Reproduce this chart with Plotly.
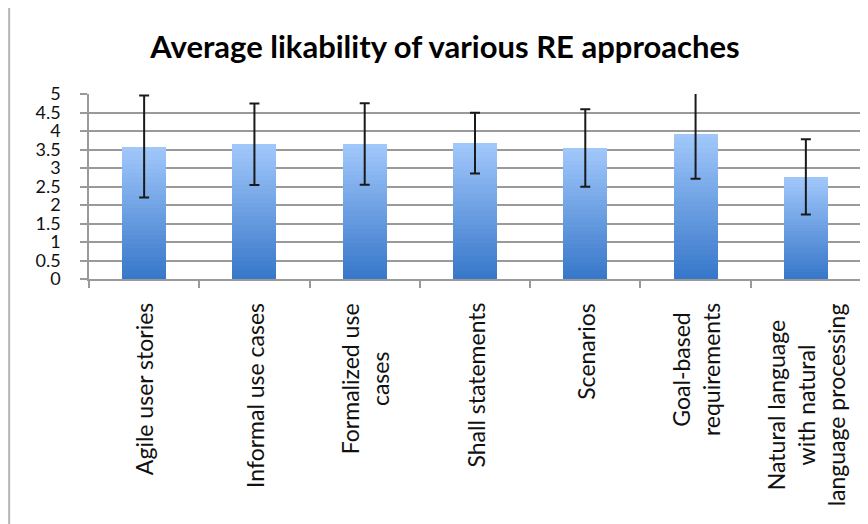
import plotly.graph_objects as go

categories = [
    "Agile user stories",
    "Informal use cases",
    "Formalized use cases",
    "Shall statements",
    "Scenarios",
    "Goal-based requirements",
    "Natural language with natural language processing",
]
tick_labels = [
    "Agile user stories",
    "Informal use cases",
    "Formalized use<br>cases",
    "Shall statements",
    "Scenarios",
    "Goal-based<br>requirements",
    "Natural language<br>with natural<br>language processing",
]
means = [3.58, 3.64, 3.65, 3.67, 3.54, 3.93, 2.76]
std_devs = [1.38, 1.10, 1.10, 0.82, 1.05, 1.22, 1.02]
y_ticks = [0, 0.5, 1, 1.5, 2, 2.5, 3, 3.5, 4, 4.5, 5]

FONT = "Lato"
N_SLICES = 30
top_rgb = (160, 199, 250)
bot_rgb = (56, 120, 202)

# the page body adds an 8px offset; compensate so the figure lands like the reference
OFF = 8

fig = go.Figure()
for i in range(N_SLICES):
    t = i / (N_SLICES - 1)
    c = tuple(round(b + (tp - b) * t) for b, tp in zip(bot_rgb, top_rgb))
    fig.add_trace(go.Bar(
        x=categories,
        y=[m / N_SLICES for m in means],
        marker=dict(color=f"rgb{c}", line=dict(width=0)),
        showlegend=False,
        hoverinfo="skip",
    ))

fig.add_trace(go.Scatter(
    x=categories,
    y=means,
    mode="markers",
    marker=dict(size=1, color="rgba(0,0,0,0)"),
    error_y=dict(type="data", array=std_devs, visible=True,
                 color="#1a1a1a", thickness=2, width=5),
    showlegend=False,
))

for cat, lab in zip(categories, tick_labels):
    fig.add_annotation(
        x=cat, xref="x", y=0, yref="paper",
        text=lab, textangle=-90, showarrow=False,
        xanchor="center", yanchor="top", yshift=-22,
        align="center",
        font=dict(family=FONT, size=23, color="#111"),
    )

# outer frame of the chart
fig.add_shape(type="rect", xref="paper", yref="paper",
              x0=(10 - 89) / 764, x1=(880 - 89) / 764,
              y0=(279.3 - 560) / 185.3, y1=(279.3 - 5) / 185.3,
              line=dict(color="#b4b4b4", width=2), fillcolor="rgba(0,0,0,0)",
              layer="below")

fig.update_layout(
    width=868 - OFF, height=524 - OFF,
    margin=dict(l=89 - OFF, r=15 - OFF, t=94 - OFF, b=245),
    paper_bgcolor="white", plot_bgcolor="white",
    barmode="stack", bargap=0.6,
    title=dict(text="<b>Average likability of various RE approaches</b>",
               x=(445 - OFF) / (868 - OFF), xanchor="center",
               y=1 - (47 - OFF) / (524 - OFF), yanchor="middle",
               font=dict(family=FONT, size=31, color="#000")),
    font=dict(family=FONT, color="#111"),
)
fig.update_xaxes(
    showticklabels=False, ticks="outside", tickson="boundaries",
    ticklen=7, tickcolor="#999", tickwidth=1.5,
    showline=True, linecolor="#999", linewidth=1.5,
    showgrid=False,
)
fig.update_yaxes(
    range=[0, 5], tickvals=y_ticks, ticktext=[f"{v:g}" for v in y_ticks],
    ticks="outside", ticklen=7, tickcolor="#999", tickwidth=1.5,
    showline=True, linecolor="#999", linewidth=1.5,
    showgrid=True, gridcolor="#999", gridwidth=1.5,
    tickfont=dict(family=FONT, size=18, color="#111"),
    ticklabelstandoff=16, zeroline=False,
)

fig.write_html("out.html")
